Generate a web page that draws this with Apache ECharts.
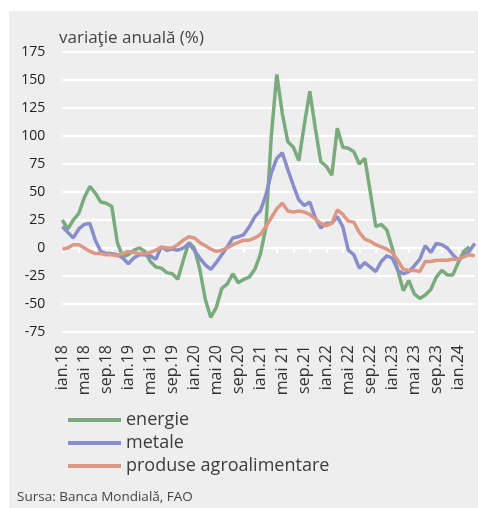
<!DOCTYPE html>
<html>
<head>
<meta charset="utf-8">
<script src="https://cdn.jsdelivr.net/npm/echarts@6/dist/echarts.min.js"></script>
<style>
  html, body { margin: 0; padding: 0; background: #ffffff; }
  #chart { position: absolute; left: 9px; top: 11px; width: 469px; height: 497px; }
</style>
</head>
<body>
<div id="chart"></div>
<script>
// luni ian.18 - apr.24
const monthNames = ['ian.', 'feb.', 'mar.', 'apr.', 'mai ', 'iun.', 'iul.', 'aug.', 'sep.', 'oct.', 'noi.', 'dec.']
const years = ['18', '19', '20', '21', '22', '23', '24']
const monthCount = 76

const energie = [
  25, 17, 25, 31, 45, 55, 49, 41, 40, 37, 5, -8,
  -6, -2, 0, -3, -12, -17, -18, -22, -23, -28, -11, 5,
  0, -19, -46, -62, -53, -36, -32, -23, -31, -28, -26, -19,
  -6, 18, 100, 155, 120, 95, 90, 78, 110, 140, 107, 77,
  73, 65, 107, 90, 89, 86, 75, 80, 50, 19, 21, 16,
  0, -20, -38, -29, -41, -45, -42, -37, -26, -20, -24, -24,
  -13, -3, 1, null
]
const metale = [
  19, 14, 9, 17, 21, 22, 7, -3, -5, -5, -6, -9,
  -14, -9, -6, -6, -7, -10, 1, -2, -1, -2, 0, 4,
  -2, -9, -15, -19, -13, -6, 1, 9, 10, 12, 19, 28,
  33, 47, 67, 80, 85, 70, 56, 43, 38, 41, 27, 18,
  22, 22, 28, 19, -2, -6, -18, -13, -17, -21, -12, -7,
  -9, -20, -23, -21, -16, -10, 2, -4, 4, 3, 0, -6,
  -11, -7, -3, 4
]
const agro = [
  -1, 0, 3, 3, 0, -3, -5, -5, -6, -6, -7, -5,
  -3, -4, -5, -5, -4, -2, 1, 0, 0, 3, 7, 10,
  9, 5, 2, -1, -3, -2, 0, 3, 5, 7, 7, 9,
  12, 19, 27, 35, 40, 33, 32, 33, 32, 30, 26, 22,
  20, 22, 34, 30, 24, 23, 14, 8, 6, 3, 1, -1,
  -4, -11, -19, -20, -20, -21, -12, -12, -11, -11, -11, -10,
  -10, -8, -6, -7
]

const seriesNames = ['energie', 'metale', 'produse agroalimentare']
const seriesColors = ['#7aab7d', '#8a8dcb', '#de9782']

const categories = []
for (let i = 0; i < monthCount; i++) {
  categories.push(monthNames[i % 12] + years[Math.floor(i / 12)])
}

const font = "'Open Sans', 'Noto Sans', sans-serif"

const chart = echarts.init(document.getElementById('chart'))

function lineSeries(name, data, color) {
  return {
    name: name,
    type: 'line',
    data: data,
    xAxisIndex: 0,
    symbol: 'none',
    smooth: false,
    connectNulls: false,
    lineStyle: { color: color, width: 3.5 },
    itemStyle: { color: color }
  }
}

const option = {
  backgroundColor: '#eeeeee',
  animation: false,
  grid: {
    left: 53.3,
    right: 3.2,
    top: 41,
    bottom: 176,
    containLabel: false
  },
  xAxis: [
    {
      type: 'category',
      position: 'bottom',
      data: categories,
      boundaryGap: false,
      axisLine: { show: false, onZero: false },
      axisTick: { show: false },
      splitLine: { show: false },
      axisLabel: {
        interval: 3,
        rotate: 90,
        margin: 13,
        fontFamily: font,
        fontSize: 16,
        color: '#333333'
      }
    },
    {
      // linia de zero cu marcaje
      type: 'category',
      position: 'top',
      data: categories,
      boundaryGap: false,
      axisLine: { show: true, onZero: true, lineStyle: { color: '#ffffff', width: 2 } },
      axisTick: { show: true, inside: true, interval: 2, length: 5, lineStyle: { color: '#ffffff', width: 2 } },
      axisLabel: { show: false },
      splitLine: { show: false }
    }
  ],
  yAxis: {
    type: 'value',
    min: -75,
    max: 175,
    interval: 25,
    axisLine: { show: false },
    axisTick: { show: false },
    splitLine: { show: true, lineStyle: { color: '#ffffff', width: 2 } },
    axisLabel: {
      margin: 17,
      fontFamily: font,
      fontSize: 14,
      color: '#222222'
    }
  },
  legend: {
    orient: 'vertical',
    left: 54,
    top: 395,
    icon: 'rect',
    itemWidth: 53,
    itemHeight: 4,
    itemGap: 5,
    data: seriesNames,
    textStyle: {
      fontFamily: font,
      fontSize: 18,
      lineHeight: 18,
      color: '#3c3c3c'
    }
  },
  graphic: [
    {
      type: 'text',
      left: 50,
      top: 19,
      style: {
        text: 'variaţie anuală (%)',
        font: '17px ' + font,
        fill: '#444444'
      }
    },
    {
      type: 'text',
      left: 8,
      top: 479,
      style: {
        text: 'Sursa: Banca Mondială, FAO',
        font: '13.5px ' + font,
        fill: '#444444'
      }
    }
  ],
  series: [
    lineSeries(seriesNames[0], energie, seriesColors[0]),
    lineSeries(seriesNames[1], metale, seriesColors[1]),
    lineSeries(seriesNames[2], agro, seriesColors[2])
  ]
}

chart.setOption(option)
</script>
</body>
</html>
